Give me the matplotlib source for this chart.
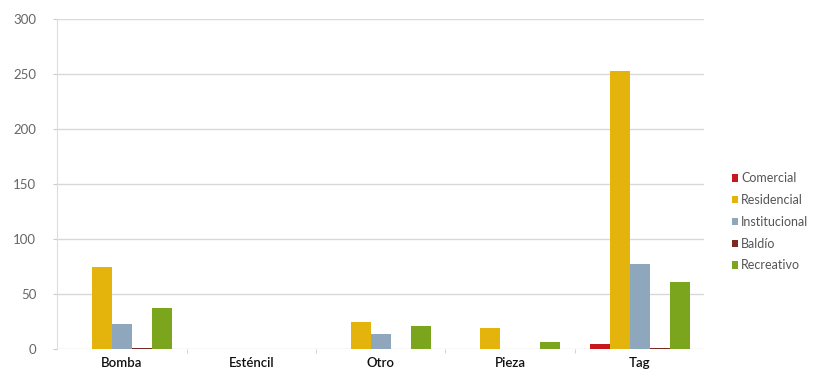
import matplotlib
matplotlib.use("Agg")
import matplotlib.pyplot as plt
import numpy as np

# graffiti type counts by land use
categories = ["Bomba", "Esténcil", "Otro", "Pieza", "Tag"]
series_names = ["Comercial", "Residencial", "Institucional", "Baldío", "Recreativo"]
comercial = [0, 0, 0, 0, 5]
residencial = [75, 0, 25, 19, 253]
institucional = [23, 0, 14, 0, 77]
baldio = [1, 0, 0, 0, 1]
recreativo = [37, 0, 21, 6, 61]
y_ticks = [0, 50, 100, 150, 200, 250, 300]

colors = ["#c8161d", "#e4b40c", "#8ea7bd", "#7a2a22", "#7aa51c"]

plt.rcParams["font.family"] = ["Lato", "DejaVu Sans"]

fig = plt.figure(figsize=(8.3, 3.79), dpi=100)
ax = fig.add_axes([0.0687, 0.079, 0.78, 0.871])

x = np.arange(len(categories))
w = 0.155
all_series = [comercial, residencial, institucional, baldio, recreativo]
for i, (vals, name, c) in enumerate(zip(all_series, series_names, colors)):
    ax.bar(x + (i - 2) * w, vals, width=w, color=c, label=name, zorder=3)

ax.set_xlim(-0.5, len(categories) - 0.5)
ax.set_ylim(0, 300)
ax.set_yticks(y_ticks)
ax.set_yticklabels([str(v) for v in y_ticks], color="#666666", fontsize=9.5)
ax.set_xticks(x)
ax.set_xticklabels(categories, color="#111111", fontsize=9.5, fontweight="semibold")
ax.set_xticks(np.arange(len(categories) - 1) + 0.5, minor=True)
ax.tick_params(axis="x", which="major", length=0, pad=6)
ax.tick_params(axis="x", which="minor", length=3, color="#cccccc")
ax.tick_params(axis="y", length=3, color="#cccccc", pad=12)

ax.grid(axis="y", color="#d9d9d9", linewidth=1, zorder=0)
for side in ("top", "right", "bottom"):
    ax.spines[side].set_visible(False)
ax.spines["left"].set_color("#dddddd")

ax.legend(loc="center left", bbox_to_anchor=(1.025, 0.385), frameon=False,
          fontsize=9, handlelength=0.5, handleheight=0.5, handletextpad=0.25,
          labelspacing=0.78, labelcolor="#555555")

fig.savefig("out.png", dpi=100)
